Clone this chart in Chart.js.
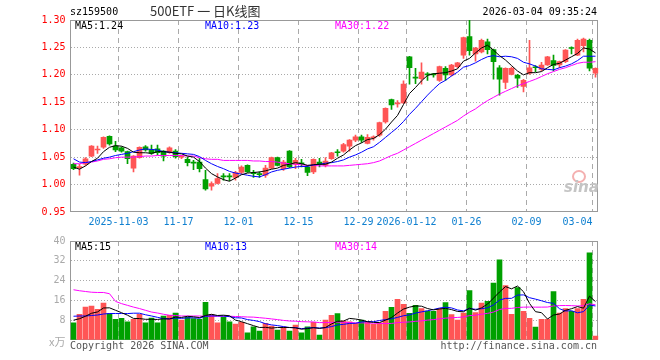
<!DOCTYPE html>
<html>
<head>
<meta charset="UTF-8">
<title>500ETF 日K线图</title>
<script src="https://cdn.jsdelivr.net/npm/chart.js@4.4.0/dist/chart.umd.min.js"></script>
<style>
  body { margin: 0; background: #fff; }
  #wrap { position: relative; width: 660px; height: 360px; overflow: hidden;
          font-family: "DejaVu Sans Mono", "Liberation Mono", monospace; font-size: 10px; }
  canvas { position: absolute; left: 0; }
  .t { position: absolute; white-space: nowrap; line-height: 12px; }
</style>
</head>
<body>
<div id="wrap">
  <canvas id="kline" width="660" height="230" style="top:0"></canvas>
  <canvas id="volume" width="660" height="130" style="top:230px"></canvas>

  <div class="t" style="left:70px;top:6px;color:#000">sz159500</div>
  <div class="t" style="left:150px;top:3px;color:#333;font-family:'Noto Sans CJK SC';font-size:13px;line-height:16px">500ETF 一 日K线图</div>
  <div class="t" style="right:63px;top:6px;color:#000">2026-03-04 09:35:24</div>

  <div class="t" style="left:75px;top:20px;color:#000">MA5:1.24</div>
  <div class="t" style="left:205px;top:20px;color:#0000ff">MA10:1.23</div>
  <div class="t" style="left:335px;top:20px;color:#ff00ff">MA30:1.22</div>

  <div class="t" style="left:75px;top:241px;color:#000">MA5:15</div>
  <div class="t" style="left:205px;top:241px;color:#0000ff">MA10:13</div>
  <div class="t" style="left:335px;top:241px;color:#ff00ff">MA30:14</div>

  <div class="t" style="left:49px;top:335px;color:#aaa;font-family:'Noto Sans CJK SC';font-size:11px">x万</div>
  <div class="t" style="left:70px;top:340px;color:#555">Copyright 2026 SINA.COM</div>
  <div class="t" style="right:63px;top:340px;color:#555">http://finance.sina.com.cn</div>

  <div style="position:absolute;left:572px;top:170px;width:10px;height:9px;border-radius:50%;border:2px solid #f4b0b0"></div>
  <div class="t" style="left:564px;top:179px;color:#c4c4c4;font-family:'DejaVu Sans';font-style:italic;font-weight:bold;font-size:15px;line-height:16px">sina</div>
</div>

<script>
// trading days shown
const dates = [
  '2025-10-22','2025-10-23','2025-10-24','2025-10-27','2025-10-28','2025-10-29','2025-10-30','2025-10-31',
  '2025-11-03','2025-11-04','2025-11-05','2025-11-06','2025-11-07','2025-11-10','2025-11-11','2025-11-12',
  '2025-11-13','2025-11-14','2025-11-17','2025-11-18','2025-11-19','2025-11-20','2025-11-21','2025-11-24',
  '2025-11-25','2025-11-26','2025-11-27','2025-11-28',
  '2025-12-01','2025-12-02','2025-12-03','2025-12-04','2025-12-05','2025-12-08','2025-12-09','2025-12-10',
  '2025-12-11','2025-12-12','2025-12-15','2025-12-16','2025-12-17','2025-12-18','2025-12-19','2025-12-22',
  '2025-12-23','2025-12-24','2025-12-25','2025-12-26','2025-12-29','2025-12-30','2025-12-31',
  '2026-01-05','2026-01-06','2026-01-07','2026-01-08','2026-01-09','2026-01-12','2026-01-13','2026-01-14',
  '2026-01-15','2026-01-16','2026-01-19','2026-01-20','2026-01-21','2026-01-22','2026-01-23','2026-01-26',
  '2026-01-27','2026-01-28','2026-01-29','2026-01-30',
  '2026-02-02','2026-02-03','2026-02-04','2026-02-05','2026-02-06','2026-02-09','2026-02-10','2026-02-11',
  '2026-02-12','2026-02-13','2026-02-24','2026-02-25','2026-02-26','2026-02-27',
  '2026-03-02','2026-03-03','2026-03-04'
];

const open = [
  1.037,1.031,1.037,1.052,1.063,1.068,1.088,1.070,1.067,1.060,
  1.030,1.049,1.069,1.064,1.065,1.061,1.058,1.061,1.050,1.046,
  1.040,1.041,1.009,0.997,1.002,1.015,1.015,1.013,1.022,1.035,
  1.021,1.019,1.017,1.030,1.049,1.029,1.061,1.037,1.039,1.032,
  1.023,1.041,1.035,1.047,1.059,1.061,1.070,1.081,1.087,1.075,
  1.085,1.090,1.114,1.155,1.147,1.149,1.233,1.195,1.193,1.201,
  1.201,1.190,1.212,1.200,1.215,1.236,1.270,1.238,1.242,1.260,
  1.246,1.213,1.186,1.201,1.199,1.179,1.203,1.214,1.210,1.218,
  1.226,1.218,1.224,1.249,1.236,1.253,1.263,1.203
];
const high = [
  1.039,1.037,1.049,1.071,1.070,1.087,1.089,1.079,1.069,1.061,
  1.053,1.069,1.071,1.072,1.072,1.062,1.069,1.064,1.053,1.050,
  1.044,1.048,1.026,1.005,1.020,1.020,1.020,1.024,1.034,1.036,
  1.026,1.023,1.035,1.050,1.050,1.044,1.062,1.048,1.046,1.035,
  1.047,1.048,1.049,1.059,1.064,1.075,1.082,1.090,1.090,1.091,
  1.089,1.114,1.140,1.156,1.153,1.189,1.234,1.212,1.222,1.204,
  1.203,1.216,1.215,1.219,1.223,1.269,1.300,1.250,1.265,1.265,
  1.247,1.217,1.213,1.214,1.201,1.192,1.263,1.217,1.223,1.234,
  1.236,1.225,1.246,1.251,1.265,1.267,1.265,1.213
];
const low = [
  1.027,1.017,1.035,1.051,1.057,1.066,1.072,1.060,1.059,1.038,
  1.023,1.048,1.061,1.055,1.054,1.043,1.057,1.048,1.047,1.034,
  1.027,1.023,0.990,0.990,1.001,1.008,1.007,1.008,1.020,1.022,
  1.013,1.013,1.013,1.029,1.034,1.026,1.031,1.029,1.032,1.016,
  1.020,1.032,1.032,1.046,1.052,1.059,1.061,1.078,1.077,1.074,
  1.081,1.088,1.112,1.137,1.141,1.148,1.183,1.184,1.183,1.190,
  1.196,1.188,1.190,1.198,1.213,1.230,1.236,1.225,1.240,1.238,
  1.192,1.163,1.175,1.200,1.177,1.169,1.201,1.206,1.207,1.217,
  1.207,1.213,1.222,1.238,1.235,1.242,1.207,1.196
];
const close = [
  1.029,1.032,1.047,1.070,1.064,1.086,1.074,1.063,1.061,1.047,
  1.052,1.068,1.063,1.057,1.058,1.052,1.067,1.051,1.051,1.040,
  1.039,1.029,0.992,1.002,1.011,1.014,1.014,1.022,1.032,1.023,
  1.020,1.018,1.030,1.049,1.035,1.041,1.032,1.044,1.038,1.022,
  1.046,1.037,1.043,1.058,1.058,1.073,1.081,1.087,1.081,1.086,
  1.086,1.113,1.139,1.145,1.148,1.183,1.213,1.194,1.205,1.200,
  1.200,1.215,1.200,1.218,1.222,1.268,1.244,1.249,1.263,1.246,
  1.224,1.192,1.212,1.212,1.194,1.190,1.213,1.213,1.218,1.233,
  1.217,1.224,1.245,1.248,1.263,1.265,1.212,1.212
];

const ma5 = [
  1.032,1.028,1.034,1.042,1.048,1.060,1.068,1.071,1.070,1.066,
  1.059,1.058,1.058,1.057,1.060,1.060,1.059,1.057,1.056,1.052,
  1.050,1.042,1.030,1.020,1.014,1.009,1.006,1.012,1.018,1.021,
  1.022,1.023,1.025,1.028,1.030,1.035,1.037,1.040,1.038,1.035,
  1.036,1.037,1.037,1.041,1.048,1.054,1.063,1.071,1.076,1.082,
  1.084,1.091,1.101,1.114,1.126,1.146,1.166,1.177,1.189,1.199,
  1.202,1.203,1.204,1.207,1.211,1.225,1.230,1.240,1.249,1.254,
  1.245,1.235,1.227,1.217,1.207,1.200,1.204,1.204,1.206,1.213,
  1.219,1.221,1.227,1.233,1.239,1.249,1.247,1.240
];
const ma10 = [
  1.047,1.041,1.040,1.042,1.045,1.048,1.050,1.053,1.055,1.057,
  1.060,1.063,1.065,1.064,1.063,1.060,1.059,1.058,1.057,1.056,
  1.055,1.051,1.044,1.038,1.033,1.029,1.024,1.021,1.019,1.017,
  1.015,1.014,1.018,1.023,1.026,1.028,1.030,1.032,1.033,1.033,
  1.036,1.037,1.039,1.040,1.042,1.045,1.050,1.054,1.059,1.065,
  1.069,1.077,1.086,1.095,1.104,1.115,1.128,1.139,1.151,1.163,
  1.174,1.184,1.190,1.198,1.205,1.214,1.217,1.222,1.228,1.233,
  1.235,1.233,1.234,1.233,1.230,1.223,1.220,1.216,1.211,1.210,
  1.209,1.213,1.216,1.220,1.226,1.234,1.234,1.234
];
const ma30 = [
  1.038,1.038,1.040,1.041,1.043,1.046,1.047,1.049,1.050,1.050,
  1.050,1.051,1.052,1.052,1.053,1.053,1.053,1.053,1.053,1.052,
  1.052,1.049,1.047,1.046,1.046,1.044,1.044,1.044,1.044,1.044,
  1.043,1.043,1.042,1.042,1.041,1.039,1.038,1.037,1.036,1.035,
  1.035,1.034,1.034,1.034,1.034,1.034,1.035,1.036,1.037,1.038,
  1.040,1.043,1.048,1.053,1.057,1.063,1.069,1.075,1.081,1.087,
  1.093,1.099,1.105,1.111,1.117,1.125,1.132,1.138,1.146,1.153,
  1.159,1.165,1.170,1.175,1.180,1.184,1.188,1.192,1.197,1.202,
  1.206,1.210,1.213,1.217,1.221,1.223,1.223,1.224
];

// volume, 万手
const vol = [
  6.9,10.4,13.3,13.7,12.4,14.9,10.7,8.4,8.8,7.3,
  8.4,10.4,6.9,8.9,6.9,9.7,10.0,10.9,8.0,9.3,
  8.7,8.4,15.2,10.3,6.9,9.3,7.3,6.4,7.1,2.9,
  5.3,3.6,6.7,5.6,4.0,5.3,3.6,6.0,2.9,5.3,
  7.1,2.0,8.0,10.0,10.7,7.6,7.3,6.7,8.0,7.3,
  6.3,6.9,11.6,13.2,16.4,14.4,10.8,14.0,12.7,11.7,
  11.6,12.7,15.1,10.3,8.0,10.9,20.0,11.1,14.9,15.6,
  23.0,32.4,22.0,10.4,21.2,11.6,8.8,5.2,8.4,8.4,
  19.6,10.9,12.7,11.6,12.7,16.4,35.2,1.6
];
const vma5 = [
  8.0,8.6,9.6,10.8,11.34,12.94,13.0,12.02,11.04,10.02,
  8.72,8.66,8.36,8.38,8.3,8.56,8.48,9.28,9.1,9.58,
  9.38,9.06,9.92,10.38,9.9,10.02,9.8,8.04,7.4,6.6,
  5.8,5.06,5.12,4.82,5.04,5.04,5.04,4.9,4.36,4.62,
  4.98,4.66,5.06,6.48,7.56,7.66,8.72,8.46,8.06,7.38,
  7.12,7.04,8.02,9.06,10.88,12.5,13.28,13.76,13.66,12.72,
  12.16,12.54,12.76,12.28,11.54,11.4,12.86,12.06,12.98,14.5,
  16.92,19.4,21.58,20.68,21.8,19.52,14.8,11.44,11.04,8.48,
  10.08,10.5,12.0,12.64,13.5,12.86,17.72,15.5
];
const vma10 = [
  9.6,9.7,9.7,9.9,10.1,10.5,10.7,10.7,10.7,10.68,
  10.83,10.83,10.19,9.71,9.16,8.64,8.57,8.82,8.74,8.94,
  8.97,8.77,9.6,9.74,9.74,9.7,9.43,8.98,8.89,8.25,
  7.91,7.43,6.58,6.11,5.82,5.42,5.05,5.01,4.59,4.83,
  5.01,4.85,4.98,5.42,6.09,6.32,6.69,6.76,7.27,7.47,
  7.39,7.88,8.24,8.56,9.13,9.81,10.16,10.89,11.36,11.8,
  12.33,12.91,13.26,12.97,12.13,11.78,12.7,12.41,12.63,13.02,
  14.16,16.13,16.82,16.83,18.15,18.22,17.1,16.51,15.86,15.14,
  14.8,12.65,11.72,11.84,10.99,11.47,14.11,13.75
];
const vma30 = [
  20.3,19.9,19.6,19.3,19.2,19.2,18.7,15.6,14.7,14.0,
  13.3,12.7,12.0,11.3,10.9,10.4,10.0,9.9,9.7,9.7,
  9.7,9.7,9.6,9.6,9.6,9.6,9.6,9.5,9.4,9.29,
  9.24,9.01,8.79,8.52,8.24,7.92,7.68,7.6,7.41,7.34,
  7.3,7.02,7.05,7.09,7.22,7.15,7.06,6.92,6.92,6.85,
  6.77,6.72,6.6,6.7,7.01,7.18,7.3,7.55,7.74,8.03,
  8.24,8.55,8.83,8.98,9.12,9.3,9.85,10.02,10.42,10.76,
  11.29,12.31,12.77,12.79,13.14,13.27,13.32,13.27,13.28,13.32,
  13.76,13.9,13.93,13.88,13.76,13.82,14.64,14.22
];

// dates that get a dashed line and a label
const gridDates = ['2025-11-03','2025-11-17','2025-12-01','2025-12-15','2025-12-29','2026-01-12','2026-01-26','2026-02-09','2026-03-04'];
const gridText  = ['2025-11-03','11-17','12-01','12-15','12-29','2026-01-12','01-26','02-09','03-04     '];

const RED = '#ff5555', GREEN = '#00a000';
const candleColor = close.map((c, i) => c >= open[i] ? RED : GREEN);
const gridIdx = gridDates.map(d => dates.indexOf(d));
const NONE = 'rgba(0,0,0,0)';
const MONO = "'DejaVu Sans Mono', 'Liberation Mono', monospace";

const frame = {
  id: 'frame',
  beforeDatasetsDraw(c) {
    const a = c.chartArea, ctx = c.ctx;
    const x0 = Math.floor(a.left) + 0.5, x1 = Math.floor(a.right) - 0.5;
    const y0 = Math.floor(a.top) + 0.5, y1 = Math.floor(a.bottom) - 0.5;
    ctx.save();
    ctx.strokeStyle = '#999';
    ctx.lineWidth = 1;
    ctx.strokeRect(x0, y0, x1 - x0, y1 - y0);
    ctx.restore();
  }
};

function xAxis(h, showLabels) {
  return {
    type: 'category',
    offset: true,
    afterFit(s) { s.height = h; },
    grid: {
      offset: true,
      drawTicks: false,
      color: ctx => gridIdx.includes(ctx.index) ? '#aaa' : NONE
    },
    border: { display: false, dash: [5, 4] },
    ticks: {
      display: showLabels,
      autoSkip: false,
      maxRotation: 0,
      minRotation: 0,
      padding: 4,
      labelOffset: -3,
      color: '#1080d0',
      font: { family: MONO, size: 10 },
      callback: (v, i) => {
        const k = gridIdx.indexOf(i);
        return k >= 0 ? gridText[k] : '';
      }
    }
  };
}

function line(data, color) {
  return {
    type: 'line', data, borderColor: color, borderWidth: 1,
    pointRadius: 0, tension: 0, fill: false, order: 0
  };
}

new Chart(document.getElementById('kline'), {
  type: 'bar',
  data: {
    labels: dates,
    datasets: [
      line(ma5, '#000000'),
      line(ma10, '#0000ff'),
      line(ma30, '#ff00ff'),
      {
        data: open.map((o, i) => [o, close[i]]),
        backgroundColor: candleColor,
        barThickness: 5, minBarLength: 1, grouped: false, order: 1
      },
      {
        data: low.map((l, i) => [l, high[i]]),
        backgroundColor: candleColor,
        barThickness: 1, grouped: false, order: 2
      }
    ]
  },
  options: {
    responsive: false,
    animation: false,
    events: [],
    layout: { padding: { top: 20, right: 61.5, left: 0, bottom: 0 } },
    plugins: { legend: { display: false }, tooltip: { enabled: false } },
    scales: {
      x: xAxis(18, true),
      y: {
        min: 0.95, max: 1.30,
        afterFit(s) { s.width = 70.5; },
        grid: {
          drawTicks: false,
          color: ctx => (ctx.tick && (Math.abs(ctx.tick.value - 0.95) < 1e-6 || Math.abs(ctx.tick.value - 1.30) < 1e-6)) ? NONE : '#aaa'
        },
        border: { display: false, dash: [1, 2] },
        ticks: {
          stepSize: 0.05,
          padding: 5,
          color: '#ff0000',
          font: { family: MONO, size: 10 },
          callback: v => Number(v).toFixed(2)
        }
      }
    }
  },
  plugins: [frame]
});

new Chart(document.getElementById('volume'), {
  type: 'bar',
  data: {
    labels: dates,
    datasets: [
      line(vma5, '#000000'),
      line(vma10, '#0000ff'),
      line(vma30, '#ff00ff'),
      {
        data: vol,
        backgroundColor: candleColor,
        barThickness: 5, grouped: false, order: 1
      }
    ]
  },
  options: {
    responsive: false,
    animation: false,
    events: [],
    layout: { padding: { top: 10, right: 61.5, left: 0, bottom: 0 } },
    plugins: { legend: { display: false }, tooltip: { enabled: false } },
    scales: {
      x: xAxis(20, false),
      y: {
        min: 0, max: 40,
        afterFit(s) { s.width = 70.5; },
        grid: {
          drawTicks: false,
          color: ctx => (ctx.tick && (ctx.tick.value === 0 || ctx.tick.value === 40)) ? NONE : '#aaa'
        },
        border: { display: false, dash: [1, 2] },
        ticks: {
          stepSize: 8,
          padding: 5,
          color: '#aaa',
          font: { family: MONO, size: 10 },
          callback: v => v === 0 ? '' : v
        }
      }
    }
  },
  plugins: [frame]
});
</script>
</body>
</html>
